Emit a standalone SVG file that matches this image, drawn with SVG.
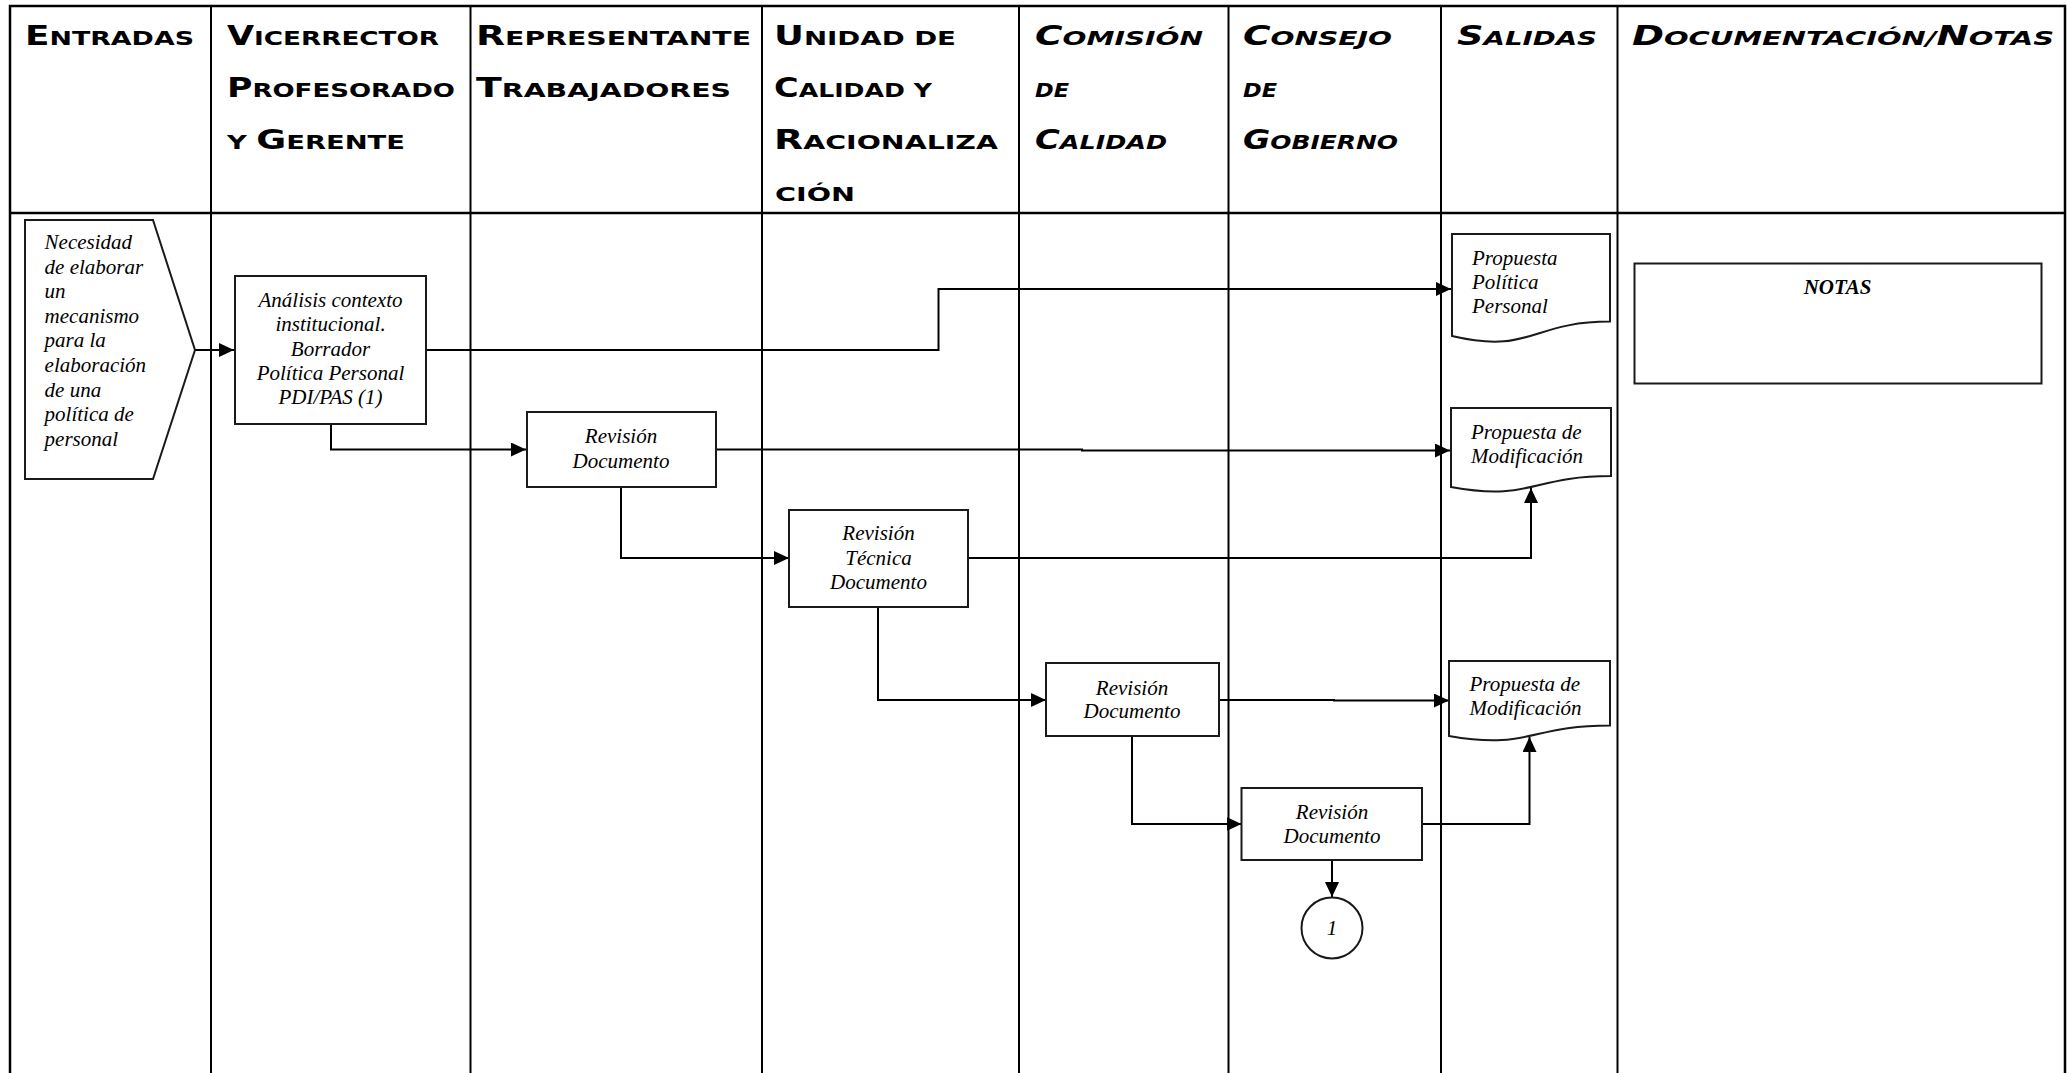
<svg xmlns="http://www.w3.org/2000/svg" width="2067" height="1073" viewBox="0 0 2067 1073">
<style>
.grid{stroke:#000;stroke-width:2;fill:none}
.frame{stroke:#000;stroke-width:2.5;fill:none}
.h{font-family:"DejaVu Sans",sans-serif;font-weight:bold;font-size:19.5px;fill:#000}
.hi{font-style:italic}
.c{font-size:26px}
.box{fill:#fff;stroke:#1a1a1a;stroke-width:2}
.t{font-family:"Liberation Serif","Times New Roman",serif;font-style:italic;font-size:21px;fill:#000}
.m{text-anchor:middle}
.b{font-weight:bold}
.conn{fill:none;stroke:#000;stroke-width:2}
</style>
<defs>
<marker id="ah" markerUnits="userSpaceOnUse" markerWidth="16" markerHeight="15" refX="15" refY="7" orient="auto">
<path d="M0,0 L15,7 L0,14 Z" fill="#000"/>
</marker>
</defs>
<rect width="2067" height="1073" fill="#fff"/>
<g id="table">
<path class="frame" d="M10,1073 V6 H2065 V1073"/>
<path class="frame" d="M10,213 H2065"/>
<path class="grid" d="M211,6 V1073 M470.5,6 V1073 M762,6 V1073 M1019,6 V1073 M1228.5,6 V1073 M1441,6 V1073 M1617.5,6 V1073"/>
</g>
<g id="headers">
<text class="h" x="25" y="44.5" textLength="169" lengthAdjust="spacingAndGlyphs"><tspan class="c">E</tspan>NTRADAS</text>
<text class="h" x="227" y="44.5" textLength="212" lengthAdjust="spacingAndGlyphs"><tspan class="c">V</tspan>ICERRECTOR</text>
<text class="h" x="227" y="96.5" textLength="228" lengthAdjust="spacingAndGlyphs"><tspan class="c">P</tspan>ROFESORADO</text>
<text class="h" x="227" y="148.5" textLength="178" lengthAdjust="spacingAndGlyphs">Y <tspan class="c">G</tspan>ERENTE</text>
<text class="h" x="476" y="44.5" textLength="275" lengthAdjust="spacingAndGlyphs"><tspan class="c">R</tspan>EPRESENTANTE</text>
<text class="h" x="476" y="96.5" textLength="255" lengthAdjust="spacingAndGlyphs"><tspan class="c">T</tspan>RABAJADORES</text>
<text class="h" x="774" y="44.5" textLength="182" lengthAdjust="spacingAndGlyphs"><tspan class="c">U</tspan>NIDAD DE</text>
<text class="h" x="774" y="96.5" textLength="158" lengthAdjust="spacingAndGlyphs"><tspan class="c">C</tspan>ALIDAD Y</text>
<text class="h" x="774" y="148.5" textLength="224" lengthAdjust="spacingAndGlyphs"><tspan class="c">R</tspan>ACIONALIZA</text>
<text class="h" x="775" y="200.5" textLength="80" lengthAdjust="spacingAndGlyphs">CIÓN</text>
<text class="h hi" x="1035" y="44.5" textLength="168" lengthAdjust="spacingAndGlyphs"><tspan class="c">C</tspan>OMISIÓN</text>
<text class="h hi" x="1035" y="96.5" textLength="34" lengthAdjust="spacingAndGlyphs">DE</text>
<text class="h hi" x="1035" y="148.5" textLength="132" lengthAdjust="spacingAndGlyphs"><tspan class="c">C</tspan>ALIDAD</text>
<text class="h hi" x="1243" y="44.5" textLength="149" lengthAdjust="spacingAndGlyphs"><tspan class="c">C</tspan>ONSEJO</text>
<text class="h hi" x="1243" y="96.5" textLength="34" lengthAdjust="spacingAndGlyphs">DE</text>
<text class="h hi" x="1243" y="148.5" textLength="155" lengthAdjust="spacingAndGlyphs"><tspan class="c">G</tspan>OBIERNO</text>
<text class="h hi" x="1457" y="44.5" textLength="140" lengthAdjust="spacingAndGlyphs"><tspan class="c">S</tspan>ALIDAS</text>
<text class="h hi" x="1632" y="44.5" textLength="422" lengthAdjust="spacingAndGlyphs"><tspan class="c">D</tspan>OCUMENTACIÓN/<tspan class="c">N</tspan>OTAS</text>
</g>
<g id="connectors">
<path class="conn" d="M195,350 H234" marker-end="url(#ah)"/>
<path class="conn" d="M426,350 H938.5 V289 H1451" marker-end="url(#ah)"/>
<path class="conn" d="M331,424 V449.5 H526" marker-end="url(#ah)"/>
<path class="conn" d="M716,449.5 H1082 V450.5 H1450" marker-end="url(#ah)"/>
<path class="conn" d="M621,487 V558 H789" marker-end="url(#ah)"/>
<path class="conn" d="M968,558 H1531 V488" marker-end="url(#ah)"/>
<path class="conn" d="M878,607 V700 H1046" marker-end="url(#ah)"/>
<path class="conn" d="M1219,700 H1334 V700.5 H1449" marker-end="url(#ah)"/>
<path class="conn" d="M1132,736 V824 H1241.5" marker-end="url(#ah)"/>
<path class="conn" d="M1422,824 H1529.5 V737" marker-end="url(#ah)"/>
<path class="conn" d="M1332,860 V897" marker-end="url(#ah)"/>
</g>
<g id="entrada">
<path class="box" d="M25,220 H153 L195,350 L153,479 H25 Z"/>
<text class="t" x="44.6" y="249">Necesidad<tspan x="44.6" dy="24.6">de elaborar</tspan><tspan x="44.6" dy="24.6">un</tspan><tspan x="44.6" dy="24.6">mecanismo</tspan><tspan x="44.6" dy="24.6">para la</tspan><tspan x="44.6" dy="24.6">elaboración</tspan><tspan x="44.6" dy="24.6">de una</tspan><tspan x="44.6" dy="24.6">política de</tspan><tspan x="44.6" dy="24.6">personal</tspan></text>
</g>
<g id="analisis">
<rect class="box" x="235" y="276" width="191" height="148"/>
<text class="t m" x="330.5" y="307">Análisis contexto<tspan x="330.5" dy="24.3">institucional.</tspan><tspan x="330.5" dy="24.3">Borrador</tspan><tspan x="330.5" dy="24.3">Política Personal</tspan><tspan x="330.5" dy="24.3">PDI/PAS (1)</tspan></text>
</g>
<g id="revision-representante">
<rect class="box" x="527" y="412" width="189" height="75"/>
<text class="t m" x="621" y="443">Revisión<tspan x="621" dy="24.5">Documento</tspan></text>
</g>
<g id="revision-tecnica">
<rect class="box" x="789" y="510" width="179" height="97"/>
<text class="t m" x="878.5" y="540">Revisión<tspan x="878.5" dy="24.5">Técnica</tspan><tspan x="878.5" dy="24.5">Documento</tspan></text>
</g>
<g id="revision-comision">
<rect class="box" x="1046" y="663" width="173" height="73"/>
<text class="t m" x="1132" y="694.5">Revisión<tspan x="1132" dy="23.5">Documento</tspan></text>
</g>
<g id="revision-consejo">
<rect class="box" x="1241.5" y="788" width="180.5" height="72"/>
<text class="t m" x="1332" y="819">Revisión<tspan x="1332" dy="24">Documento</tspan></text>
</g>
<g id="conector-1">
<circle class="box" cx="1332" cy="928" r="30.5"/>
<text class="t m" x="1332" y="935">1</text>
</g>
<g id="doc-propuesta-politica">
<path class="box" d="M1452,234 H1610 V321.6 C1531,321.6 1531,354.7 1452,336 Z"/>
<text class="t" x="1472" y="265">Propuesta<tspan x="1472" dy="24">Política</tspan><tspan x="1472" dy="24">Personal</tspan></text>
</g>
<g id="doc-propuesta-mod-1">
<path class="box" d="M1451,408 H1611 V476 C1531,476 1531,501.6 1451,487 Z"/>
<text class="t" x="1471" y="438.5">Propuesta de<tspan x="1471" dy="24.4">Modificación</tspan></text>
</g>
<g id="doc-propuesta-mod-2">
<path class="box" d="M1449,661 H1610 V725.5 C1529.5,725.5 1529.5,750 1449,736 Z"/>
<text class="t" x="1469.5" y="691">Propuesta de<tspan x="1469.5" dy="23.5">Modificación</tspan></text>
</g>
<g id="notas">
<rect class="box" x="1634.5" y="263.5" width="407" height="120"/>
<text class="t m b" x="1837.5" y="294">NOTAS</text>
</g>
</svg>
